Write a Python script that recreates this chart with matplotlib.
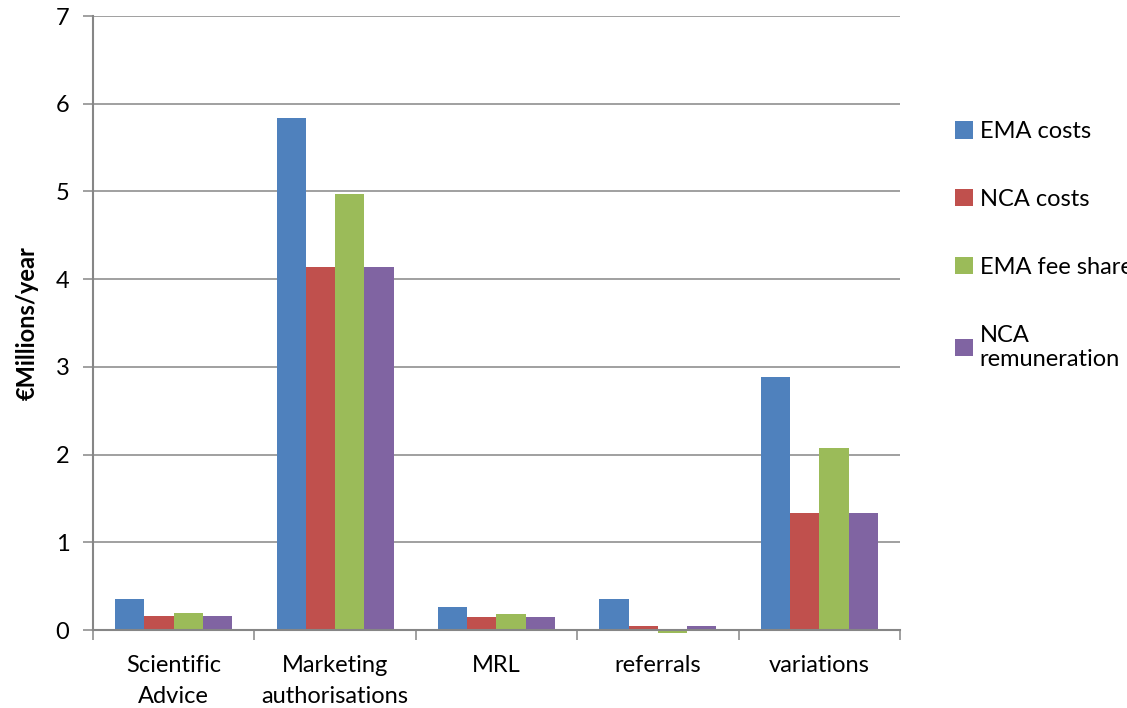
import matplotlib
matplotlib.use('Agg')
from matplotlib import pyplot as plt
import numpy as np

plt.rcParams['font.family'] = ['Lato', 'DejaVu Sans']

categories = ['Scientific\nAdvice', 'Marketing\nauthorisations', 'MRL', 'referrals', 'variations']
series_names = ['EMA costs', 'NCA costs', 'EMA fee share', 'NCA\nremuneration']
ema_costs = [0.36, 5.84, 0.26, 0.35, 2.89]
nca_costs = [0.16, 4.14, 0.15, 0.045, 1.34]
ema_fee_share = [0.19, 4.97, 0.18, -0.03, 2.08]
nca_remuneration = [0.16, 4.14, 0.15, 0.045, 1.34]
colors = ['#4F81BD', '#C0504D', '#9BBB59', '#8064A2']

grey = '#868686'
fs = 17
fig = plt.figure(figsize=(11.27, 7.08), dpi=100)
ax = fig.add_axes([0.0825, 0.110, 0.7161, 0.8674])

x = np.arange(len(categories))
width = 0.181
all_series = [ema_costs, nca_costs, ema_fee_share, nca_remuneration]
bars = []
for i, (vals, name, c) in enumerate(zip(all_series, series_names, colors)):
    b = ax.bar(x + (i - 1.5) * width, vals, width, color=c, label=name,
               zorder=3, clip_on=False)
    bars.append(b)

ax.set_xlim(-0.5, len(categories) - 0.5)
ax.set_ylim(0, 7)
ax.set_yticks(range(0, 8))
ax.yaxis.grid(True, color=grey, linewidth=1.1, zorder=0)
ax.set_axisbelow(True)

ax.set_xticks(x)
ax.set_xticklabels(categories, fontsize=fs, linespacing=1.6)
ax.set_xticks(np.arange(-0.5, len(categories)), minor=True)
ax.tick_params(axis='x', which='major', length=0, pad=18)
ax.tick_params(axis='x', which='minor', length=7, width=1.1, color=grey, direction='out')
ax.tick_params(axis='y', length=7, width=1.1, color=grey, direction='out', labelsize=fs, pad=10)

for s in ['top', 'right']:
    ax.spines[s].set_visible(False)
for s in ['left', 'bottom']:
    ax.spines[s].set_color(grey)
    ax.spines[s].set_linewidth(1.5)
ax.spines['bottom'].set_zorder(4)

ax.set_ylabel('€Millions/year', fontsize=fs, fontweight='bold', labelpad=12)

fig.legend(handles=bars, labels=series_names, loc='upper left',
           bbox_to_anchor=(0.839, 0.842), frameon=False, fontsize=fs,
           handlelength=0.75, handleheight=0.75, handletextpad=0.3,
           labelspacing=1.98, borderaxespad=0)

fig.savefig('out.png', dpi=100)
